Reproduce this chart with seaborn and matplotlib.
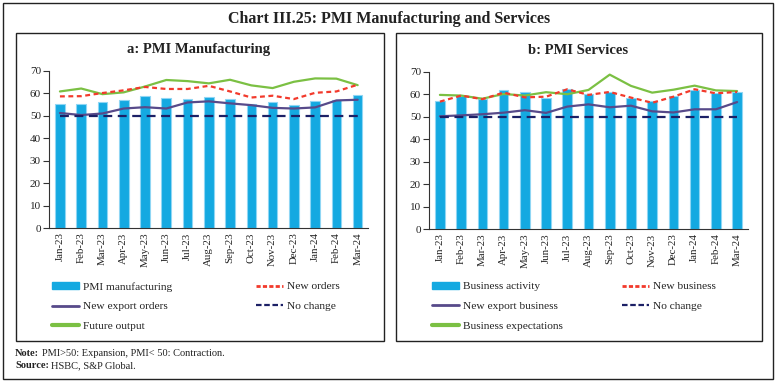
import numpy as np
import pandas as pd
import matplotlib
matplotlib.use("Agg")
import matplotlib.pyplot as plt
from matplotlib.patches import Rectangle, Patch
from matplotlib.lines import Line2D
import seaborn as sns

months = ["Jan-23", "Feb-23", "Mar-23", "Apr-23", "May-23", "Jun-23", "Jul-23",
          "Aug-23", "Sep-23", "Oct-23", "Nov-23", "Dec-23", "Jan-24", "Feb-24", "Mar-24"]

# Panel a: PMI Manufacturing
pmi_manufacturing = [55.4, 55.3, 56.4, 57.2, 58.7, 57.8, 57.7, 58.6, 57.5, 55.5, 56.0, 54.9, 56.5, 56.9, 59.1]
new_orders = [58.7, 58.8, 60.2, 61.4, 62.9, 62.0, 62.0, 63.4, 60.9, 58.2, 59.0, 57.5, 60.3, 60.9, 63.9]
new_export_orders = [51.3, 50.4, 51.1, 53.3, 53.9, 53.3, 56.0, 56.5, 55.6, 54.8, 53.6, 53.3, 53.8, 56.9, 57.2]
future_output = [60.9, 62.2, 59.7, 60.5, 63.1, 66.0, 65.5, 64.5, 66.1, 63.6, 62.4, 65.2, 66.7, 66.6, 63.7]

# Panel b: PMI Services
business_activity = [57.2, 59.4, 57.8, 62.0, 61.2, 58.5, 62.3, 60.1, 61.0, 58.4, 56.9, 59.0, 61.8, 60.6, 61.2]
new_business = [56.7, 59.4, 57.8, 60.7, 58.6, 58.9, 62.2, 59.7, 61.0, 58.5, 56.2, 58.9, 62.2, 60.4, 61.0]
new_export_business = [50.2, 50.6, 51.1, 51.8, 52.9, 51.7, 54.5, 55.5, 54.2, 54.9, 52.4, 51.9, 53.3, 53.3, 56.5]
business_expectations = [59.7, 59.4, 58.0, 60.1, 59.4, 60.9, 60.0, 61.9, 68.7, 63.7, 60.7, 62.0, 63.8, 61.7, 61.4]

no_change = [50] * len(months)

yticks = [0, 10, 20, 30, 40, 50, 60, 70]

BAR = "#14A9E1"
BAR_EDGE = "#8FD6F4"
RED = "#F23A2C"
PURPLE = "#574A8A"
GREEN = "#7BC043"
NAVY = "#1C2066"
TXT = "#222222"

SERIF = "Liberation Serif"

sns.set_theme(style="white")
plt.rcParams["font.family"] = [SERIF, "DejaVu Serif"]

W, H = 779, 383
fig = plt.figure(figsize=(W / 100, H / 100), dpi=100)


def fx(px):
    return px / W


def fy(py):
    return 1 - py / H


# outer border and panel boxes
fig.patches.append(Rectangle((fx(3), fy(379)), fx(773) - fx(3), fy(3) - fy(379),
                             transform=fig.transFigure, fill=False, ec=TXT, lw=1.0))
fig.patches.append(Rectangle((fx(16), fy(341)), fx(384) - fx(16), fy(33) - fy(341),
                             transform=fig.transFigure, fill=False, ec=TXT, lw=1.0))
fig.patches.append(Rectangle((fx(396), fy(341)), fx(762) - fx(396), fy(33) - fy(341),
                             transform=fig.transFigure, fill=False, ec=TXT, lw=1.0))

fig.text(fx(389), fy(19), "Chart III.25: PMI Manufacturing and Services", ha="center", va="center",
         fontsize=11.5, fontweight="bold", color=TXT)


def panel(ax_rect, title, title_x, bars, red, purple, green, labels, leg_x):
    ax = fig.add_axes(ax_rect)
    df = pd.DataFrame({"month": months, "bars": bars, "red": red, "purple": purple,
                       "green": green, "nc": no_change})
    sns.barplot(data=df, x="month", y="bars", color=BAR, width=0.45, saturation=1,
                edgecolor=BAR_EDGE, linewidth=0.8, ax=ax, zorder=2)
    sns.lineplot(data=df, x="month", y="purple", color=PURPLE, lw=1.6, ax=ax, zorder=3)
    sns.lineplot(data=df, x="month", y="green", color=GREEN, lw=1.6, ax=ax, zorder=3)
    sns.lineplot(data=df, x="month", y="red", color=RED, lw=1.6, ax=ax, zorder=4,
                 linestyle=(0, (2.2, 1.6)))
    sns.lineplot(data=df, x="month", y="nc", color=NAVY, lw=1.6, ax=ax, zorder=5,
                 linestyle=(0, (4, 2.5)))
    ax.set_xlim(-0.5, len(months) - 0.5)
    ax.set_ylim(0, 70)
    ax.set_yticks(yticks)
    ax.set_yticklabels([str(t) for t in yticks], fontsize=8, color=TXT)
    ax.set_xticks(range(len(months)))
    ax.set_xticklabels(months, rotation=90, fontsize=7.8, color=TXT)
    ax.set_xticks(np.arange(-0.5, len(months)), minor=True)
    ax.tick_params(axis="x", which="major", length=0, pad=3)
    ax.tick_params(axis="x", which="minor", length=4, width=0.8, color="#333333", direction="out")
    ax.tick_params(axis="y", length=4, width=0.8, color="#333333", direction="out", pad=2, left=True)
    ax.set_xlabel("")
    ax.set_ylabel("")
    for s in ["top", "right"]:
        ax.spines[s].set_visible(False)
    for s in ["left", "bottom"]:
        ax.spines[s].set_color("#333333")
        ax.spines[s].set_linewidth(0.8)
    ax.grid(False)
    if ax.get_legend() is not None:
        ax.get_legend().remove()

    fig.text(fx(title_x), fy(50), title, ha="center", va="center", fontsize=10.5,
             fontweight="bold", color=TXT)

    h_bar = Patch(facecolor=BAR, edgecolor=BAR)
    h_purple = Line2D([], [], color=PURPLE, lw=2)
    h_green = Line2D([], [], color=GREEN, lw=3)
    h_red = Line2D([], [], color=RED, lw=2, linestyle=(0, (1.5, 0.8)))
    h_navy = Line2D([], [], color=NAVY, lw=1.6, linestyle=(0, (2.5, 1.2)))
    common = dict(frameon=False, fontsize=8.2, handlelength=2.4, handleheight=0.55,
                  handletextpad=0.3, labelspacing=0.9, borderpad=0, borderaxespad=0,
                  loc="upper left", labelcolor=TXT)
    fig.legend([h_bar, h_purple, h_green], [labels[0], labels[2], labels[4]],
               bbox_to_anchor=(fx(leg_x[0]), fy(282)), **common)
    fig.legend([h_red, h_navy], [labels[1], labels[3]],
               bbox_to_anchor=(fx(leg_x[1]), fy(282)), **common)
    return ax


panel([fx(49.3), fy(228.3), fx(368.3) - fx(49.3), fy(71) - fy(228.3)],
      "a: PMI Manufacturing", 199, pmi_manufacturing, new_orders, new_export_orders, future_output,
      ["PMI manufacturing", "New orders", "New export orders", "No change", "Future output"],
      (52, 256))

panel([fx(429.3), fy(229.3), fx(747.7) - fx(429.3), fy(71.7) - fy(229.3)],
      "b: PMI Services", 578, business_activity, new_business, new_export_business, business_expectations,
      ["Business activity", "New business", "New export business", "No change", "Business expectations"],
      (432, 622))

fig.text(fx(15), fy(354), "Note:", fontsize=7.5, va="center", ha="left", fontweight="bold", color=TXT)
fig.text(fx(42), fy(354), "PMI>50: Expansion, PMI< 50: Contraction.", fontsize=7.5, va="center",
         ha="left", color=TXT)
fig.text(fx(15), fy(366), "Source:", fontsize=7.5, va="center", ha="left", fontweight="bold", color=TXT)
fig.text(fx(51), fy(366), "HSBC, S&P Global.", fontsize=7.5, va="center", ha="left", color=TXT)

fig.savefig("out.png", dpi=100)
